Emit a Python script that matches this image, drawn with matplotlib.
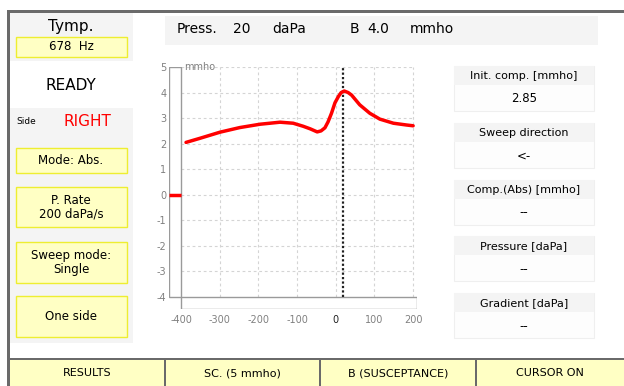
import matplotlib
matplotlib.use('Agg')
import matplotlib.pyplot as plt
from matplotlib.patches import Rectangle

# Datos de la curva de timpanometria (presion en daPa, admitancia en mmho)
presion = [-387, -351, -299, -248, -196, -144, -110, -84, -66, -48, -38, -28, -20,
           -11, -2, 7, 14, 22, 32, 41, 62, 88, 114, 149, 183, 200]
admitancia = [2.05, 2.21, 2.45, 2.63, 2.76, 2.84, 2.80, 2.68, 2.58, 2.46, 2.50, 2.62, 2.85,
              3.19, 3.60, 3.85, 4.00, 4.06, 4.00, 3.90, 3.52, 3.19, 2.96, 2.80, 2.73, 2.70]
ticks_x = [-400, -300, -200, -100, 0, 100, 200]
ticks_y = [-4, -3, -2, -1, 0, 1, 2, 3, 4, 5]
pico_presion = 20
pico_b = '4.0'
valor_cero = 0

# Textos de la interfaz
titulos_der = ['Init. comp. [mmho]', 'Sweep direction', 'Comp.(Abs) [mmho]',
               'Pressure [daPa]', 'Gradient [daPa]']
valores_der = ['2.85', '<-', '--', '--', '--']
botones_izq = ['Mode: Abs.', 'P. Rate\n200 daPa/s', 'Sweep mode:\nSingle', 'One side']
botones_abajo = ['RESULTS', 'SC. (5 mmho)', 'B (SUSCEPTANCE)', 'CURSOR ON']

W, H = 624, 386
AMARILLO = '#ffffc4'
BORDE_AM = '#eeee30'
GRIS = '#f4f4f4'

fig = plt.figure(figsize=(W / 100, H / 100), dpi=100)
plt.rcParams['font.family'] = ['DejaVu Sans']

# Eje de fondo en coordenadas de pixel (origen arriba a la izquierda)
bg = fig.add_axes([0, 0, 1, 1])
bg.set_xlim(0, W)
bg.set_ylim(H, 0)
bg.axis('off')


def caja(x0, y0, x1, y1, fc, ec='none', lw=0.0, z=1):
    bg.add_patch(Rectangle((x0, y0), x1 - x0, y1 - y0, facecolor=fc, edgecolor=ec, linewidth=lw, zorder=z))


def texto(x, y, s, size=8.5, color='black', ha='center', **kw):
    bg.text(x, y, s, fontsize=size, color=color, ha=ha, va='center', **kw)


# Marco exterior
caja(7, 10, W, 13, '#6a6a6a', z=5)
caja(7, 10, 10, H, '#6a6a6a', z=5)

# Panel izquierdo
caja(10, 13, 133, 61, GRIS)
caja(10, 108, 133, 343, GRIS)
texto(71, 26, 'Tymp.', size=11)
caja(16, 37, 127, 57, AMARILLO, BORDE_AM, 1.0, z=2)
texto(71, 47, '678  Hz', size=8.5)
texto(71, 85, 'READY', size=11)
texto(16, 122, 'Side', size=6.5, ha='left')
texto(87, 122, 'RIGHT', size=11, color='#ff0000')
limites_izq = [(148, 173), (187, 227), (242, 283), (296, 337)]
for etiqueta, (y0, y1) in zip(botones_izq, limites_izq):
    caja(16, y0, 127, y1, AMARILLO, BORDE_AM, 1.0, z=2)
    texto(71, (y0 + y1) / 2, etiqueta, size=8.5, linespacing=1.1)

# Barra superior
caja(165, 16, 598, 45, GRIS)
for s, x in zip(['Press.', str(pico_presion), 'daPa', 'B', pico_b, 'mmho'],
                [177, 233, 272, 350, 367, 410]):
    texto(x, 29, s, size=10, ha='left')

# Panel derecho
for i, (tit, val) in enumerate(zip(titulos_der, valores_der)):
    top = 66 + i * 56.8
    caja(454, top, 594, top + 45, '#fdfdfd', '#efefef', 0.8)
    caja(454, top, 594, top + 19, GRIS)
    texto(524, top + 10, tit, size=8)
    texto(524, top + 33, val, size=8.5)

# Barra inferior
caja(10, 359, W, H, AMARILLO)
caja(10, 358, W, 360, '#6a6a6a', z=3)
divisiones = [10, 165, 320, 476, W]
for i, etiqueta in enumerate(botones_abajo):
    if i > 0:
        caja(divisiones[i] - 1, 359, divisiones[i] + 1, H, '#6a6a6a', z=3)
    texto((divisiones[i] + divisiones[i + 1]) / 2, 373, etiqueta, size=8)

# Grafico principal
ax = fig.add_axes([169 / W, 1 - 309 / H, (417 - 169) / W, (309 - 67) / H])
ax.set_xlim(-431, 210)
ax.set_ylim(-4.47, 5)
ax.patch.set_alpha(0)
for sp in ax.spines.values():
    sp.set_visible(False)

xmin, xmax = ticks_x[0], ticks_x[-1]
ymin, ymax = ticks_y[0], ticks_y[-1]
for yv in ticks_y[1:]:
    ax.plot([xmin, xmax], [yv, yv], color='#d4d4d4', lw=0.8, ls=(0, (2.5, 2.5)), zorder=1)
for xv in ticks_x[1:]:
    ax.plot([xv, xv], [ymin, ymax], color='#d4d4d4', lw=0.8, ls=(0, (2.5, 2.5)), zorder=1)

# Cajas de escala
ax.add_patch(Rectangle((-431, ymin), xmin + 431, ymax - ymin, facecolor='white',
                       edgecolor='#9a9a9a', lw=1.0, zorder=2))
ax.add_patch(Rectangle((xmin, -4.47), 210 - xmin, 0.47, facecolor='white',
                       edgecolor='#9a9a9a', lw=1.0, zorder=2))
ax.text(-392, ymax, 'mmho', fontsize=7, color='#808080', va='center', ha='left')
ax.plot([-431, xmin], [valor_cero, valor_cero], color='#ff0000', lw=2.5, zorder=3,
        solid_capstyle='butt')

ax.plot([pico_presion, pico_presion], [ymin, ymax], color='#202020', lw=1.6,
        ls=(0, (1, 1)), zorder=3)
ax.plot(presion, admitancia, color='#ff0000', lw=2.5, zorder=4, solid_capstyle='round')

ax.set_xticks(ticks_x)
ax.set_xticklabels([str(t) for t in ticks_x])
ax.set_yticks(ticks_y)
ax.set_yticklabels([str(t) for t in ticks_y])
ax.tick_params(length=0, labelsize=7, labelcolor='#808080')
ax.tick_params(axis='x', pad=4)
ax.tick_params(axis='y', pad=2)
for lab in ax.get_xticklabels():
    if lab.get_text() == '0':
        lab.set_color('#202020')

fig.savefig('out.png', dpi=100)
